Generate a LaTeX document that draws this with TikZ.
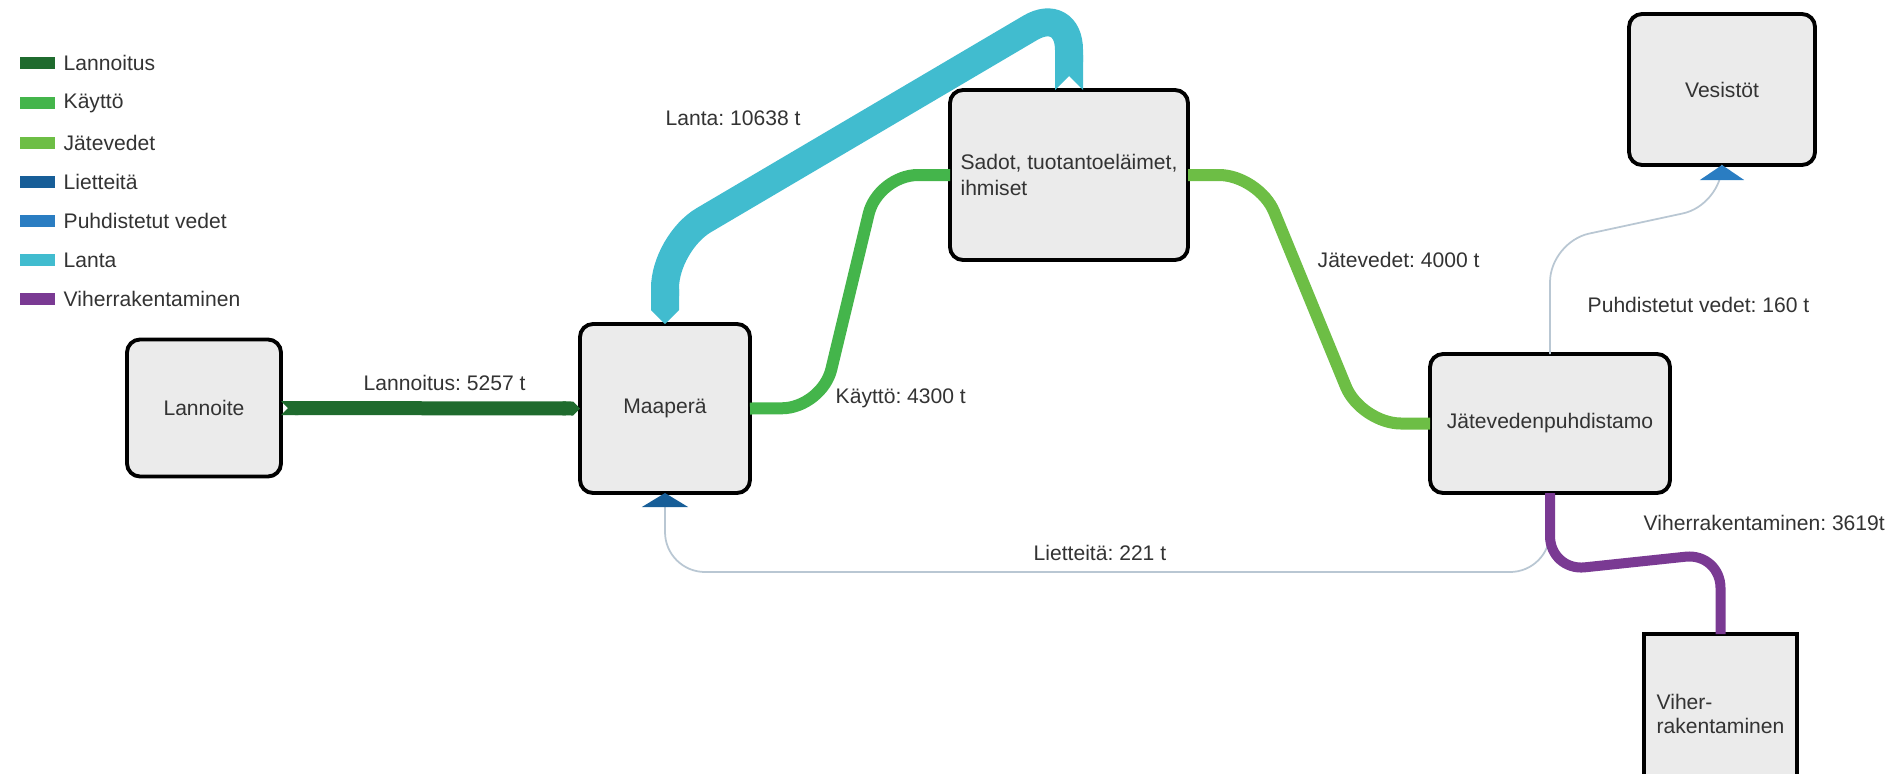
\documentclass[tikz,border=0pt]{standalone}
\usepackage{fontspec}
\setmainfont{Liberation Sans}
\frenchspacing
\usepackage{tikz}
\usetikzlibrary{arrows.meta}
\definecolor{lannoituscol}{HTML}{1F6B2E}
\definecolor{kayttocol}{HTML}{44B54B}
\definecolor{jatecol}{HTML}{6DBE45}
\definecolor{liettcol}{HTML}{175E98}
\definecolor{puhdcol}{HTML}{2A7DC2}
\definecolor{lantacol}{HTML}{41BCCF}
\definecolor{vihercol}{HTML}{7A3A93}
\definecolor{boxgray}{HTML}{EBEBEB}
\definecolor{textgray}{HTML}{333333}
\definecolor{thinline}{HTML}{B9C7D3}
\tikzstyle{box}=[draw=black, line width=1.1pt, fill=boxgray, rounded corners=0.13cm, inner sep=0pt, outer sep=0pt, text=textgray, align=center, font=\fontsize{6}{7.6}\selectfont]
\tikzstyle{flowtext}=[anchor=west, inner sep=0pt, text=textgray, font=\fontsize{6}{7.6}\selectfont]
\tikzstyle{swatch}=[minimum width=0.35cm, minimum height=0.115cm, inner sep=0pt]
\tikzstyle{thickflow}=[rounded corners=0.4cm]
\tikzstyle{thinflow}=[draw=thinline, line width=0.5pt, rounded corners=0.4cm]

\begin{document}
\begin{tikzpicture}
		   \useasboundingbox (0,0) rectangle (19.03,-7.73);
		   \clip (0,0) rectangle (19.03,-7.73);
		   \begin{scope}
			   \node (s1) at (0.375, -0.63)[swatch, fill=lannoituscol] {};
			   \node (s2) at (0.375, -1.03)[swatch, fill=kayttocol] {};
			   \node (s3) at (0.375, -1.43)[swatch, fill=jatecol] {};
			   \node (s4) at (0.375, -1.82)[swatch, fill=liettcol] {};
			   \node (s5) at (0.375, -2.21)[swatch, fill=puhdcol] {};
			   \node (s6) at (0.375, -2.60)[swatch, fill=lantacol] {};
			   \node (s7) at (0.375, -2.99)[swatch, fill=vihercol] {};
			   \node (l1) at (0.63, -0.63)[flowtext] {Lannoitus};
			   \node (l2) at (0.63, -1.03)[flowtext] {Käyttö};
			   \node (l3) at (0.63, -1.43)[flowtext] {Jätevedet};
			   \node (l4) at (0.63, -1.82)[flowtext] {Lietteitä};
			   \node (l5) at (0.63, -2.21)[flowtext] {Puhdistetut vedet};
			   \node (l6) at (0.63, -2.60)[flowtext] {Lanta};
			   \node (l7) at (0.63, -2.99)[flowtext] {Viherrakentaminen};
		   \end{scope}
		   \begin{scope}
			   \node (lannoite) at (2.04, -4.08)[box, minimum width=1.54cm, minimum height=1.37cm] {Lannoite};
			   \node (maapera) at (6.65, -4.085)[box, minimum width=1.70cm, minimum height=1.69cm] {Maaperä};
			   \node (sadot) at (10.69, -1.75)[box, minimum width=2.38cm, minimum height=1.70cm, align=left] {Sadot, tuotantoeläimet,\\ihmiset};
			   \node (vesistot) at (17.22, -0.895)[box, minimum width=1.86cm, minimum height=1.51cm] {Vesistöt};
			   \node (jate) at (15.5, -4.235)[box, minimum width=2.40cm, minimum height=1.39cm] {Jätevedenpuhdistamo};
			   \node (viher) at (17.205, -7.14)[box, sharp corners, minimum width=1.53cm, minimum height=1.6cm, align=left, font=\fontsize{6}{6.8}\selectfont] {Viher-\\rakentaminen};
		   \end{scope}
		   \begin{scope}
			   \draw [thinflow, -{Triangle[width=0.46cm, length=0.14cm, color=liettcol]}] (jate.south) -- (15.5, -5.72) -- (6.65, -5.72) -- (maapera.south);
			   \draw [thinflow, -{Triangle[width=0.44cm, length=0.15cm, color=puhdcol]}] (jate.north) -- (15.5, -2.42) -- (17.22, -2.05) -- (vesistot.south);
			   \draw [thickflow, draw=lannoituscol, line width=0.14cm, {Triangle Cap[reversed]}-{Triangle Cap}] (lannoite.east) -- (maapera.west);
			   \draw [thickflow, draw=kayttocol, line width=0.12cm] (maapera.east) -- (8.22, -4.08) -- (8.78, -1.75) -- (sadot.west);
			   \draw [thickflow, draw=jatecol, line width=0.12cm] (sadot.east) -- (12.59, -1.75) -- (13.61, -4.235) -- (jate.west);
			   \draw [thickflow, draw=vihercol, line width=0.10cm, rounded corners=0.35cm] (jate.south) -- (15.5, -5.71) -- (17.205, -5.53) -- (viher.north);
			   \draw [thickflow, draw=lantacol, line width=0.28cm, rounded corners=0.45cm, {Triangle Cap[reversed]}-{Triangle Cap}] (sadot.north) -- (10.69, -0.05) -- (6.65, -2.43) -- (maapera.north);
		   \end{scope}
		   \begin{scope}
			   \node (t1) at (3.63, -3.83)[flowtext] {Lannoitus: 5257 t};
			   \node (t2) at (8.35, -3.98)[flowtext] {Käyttö: 4300 t};
			   \node (t3) at (6.65, -1.18)[flowtext] {Lanta: 10638 t};
			   \node (t4) at (13.17, -2.60)[flowtext] {Jätevedet: 4000 t};
			   \node (t5) at (15.87, -3.05)[flowtext] {Puhdistetut vedet: 160 t};
			   \node (t6) at (10.33, -5.53)[flowtext] {Lietteitä: 221 t};
			   \node (t7) at (16.43, -5.23)[flowtext] {Viherrakentaminen: 3619t};
		   \end{scope}
	   \end{tikzpicture}
\end{document}
